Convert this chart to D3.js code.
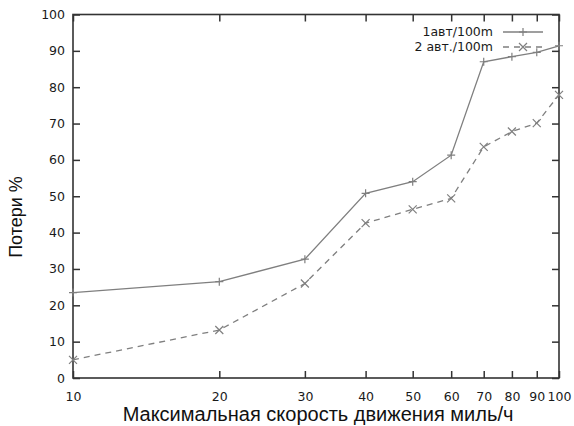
<html>
<head>
    <script src="https://d3js.org/d3.v7.min.js"></script>
</head>
<body style="margin:0;background:#fff">
    <svg id="chart" width="574" height="426"></svg>
</body>
<style>
    .tick text{font-family: "DejaVu Sans", Verdana, sans-serif; fill:#1a1a1a}
    .lbl{font-family: "Liberation Sans", Arial, sans-serif; fill:#111}
</style>
<script>
    // speed (miles/h) and losses in %
    const speeds = [10, 20, 30, 40, 50, 60, 70, 80, 90, 100]
    const loss1 = [23.5, 26.5, 32.7, 50.8, 54.0, 61.3, 87.0, 88.4, 89.6, 91.4]
    const loss2 = [5.0, 13.2, 26.0, 42.6, 46.4, 49.4, 63.6, 67.8, 70.1, 77.9]
    const yTicks = [0, 10, 20, 30, 40, 50, 60, 70, 80, 90, 100]
    const seriesNames = ['1авт/100m', '2 авт./100m']

    let svg = d3.select('svg#chart')
    const margin = {top: 14.5, right: 15, bottom: 48, left: 73}
    const width = +svg.attr('width'), height = +svg.attr('height')

    let x = d3.scaleLog().domain([10, 100]).range([margin.left, width - margin.right])
    let y = d3.scaleLinear().domain([0, 100]).range([height - margin.bottom, margin.top])

    const axisStroke = '#333'
    const lineColor = '#7f7f7f'

    let xb = svg.append('g').attr('transform', `translate(0,${y(0)})`)
        .call(d3.axisBottom(x).tickValues(speeds).tickFormat(d3.format('d')).tickSize(-7).tickPadding(14))
    let xt = svg.append('g').attr('transform', `translate(0,${y(100)})`)
        .call(d3.axisTop(x).tickValues(speeds).tickFormat('').tickSize(-7))
    let yl = svg.append('g').attr('transform', `translate(${x(10)},0)`)
        .call(d3.axisLeft(y).tickValues(yTicks).tickSize(-7).tickPadding(8))
    let yr = svg.append('g').attr('transform', `translate(${x(100)},0)`)
        .call(d3.axisRight(y).tickValues(yTicks).tickFormat('').tickSize(-7))

    ;[xb, xt, yl, yr].forEach(g => {
        g.select('path.domain').remove()
        g.selectAll('line').attr('stroke', axisStroke).attr('stroke-width', 1.5)
        g.selectAll('text').attr('font-size', '12.5px')
    })

    svg.append('rect')
       .attr('x', x(10)).attr('y', y(100))
       .attr('width', x(100) - x(10)).attr('height', y(0) - y(100))
       .attr('fill', 'none').attr('stroke', axisStroke).attr('stroke-width', 1.6)

    const line = d3.line().x(d => x(d[0])).y(d => y(d[1]))
    const s1 = speeds.map((s, i) => [s, loss1[i]])
    const s2 = speeds.map((s, i) => [s, loss2[i]])

    function plus(g, cx, cy) {
        g.append('path').attr('d', `M${cx-4},${cy}H${cx+4}M${cx},${cy-4}V${cy+4}`)
         .attr('stroke', lineColor).attr('stroke-width', 1.2)
    }
    function cross(g, cx, cy) {
        g.append('path').attr('d', `M${cx-4},${cy-4}L${cx+4},${cy+4}M${cx-4},${cy+4}L${cx+4},${cy-4}`)
         .attr('stroke', lineColor).attr('stroke-width', 1.2)
    }

    let plot = svg.append('g')
    plot.append('path').datum(s1).attr('d', line)
        .attr('fill', 'none').attr('stroke', lineColor).attr('stroke-width', 1.3)
    plot.append('path').datum(s2).attr('d', line)
        .attr('fill', 'none').attr('stroke', lineColor).attr('stroke-width', 1.3)
        .attr('stroke-dasharray', '6,5')
    s1.forEach(d => plus(plot, x(d[0]), y(d[1])))
    s2.forEach(d => cross(plot, x(d[0]), y(d[1])))

    // legend
    let leg = svg.append('g')
    seriesNames.forEach((name, i) => {
        let ly = 32 + i * 15
        leg.append('text').text(name)
           .attr('x', 493).attr('y', ly).attr('dy', '0.35em')
           .attr('text-anchor', 'end')
           .attr('font-family', '"DejaVu Sans", Verdana, sans-serif')
           .attr('font-size', '12.5px').attr('fill', '#1a1a1a')
        leg.append('line').attr('x1', 503).attr('x2', 543).attr('y1', ly).attr('y2', ly)
           .attr('stroke', lineColor).attr('stroke-width', 1.3)
           .attr('stroke-dasharray', i == 0 ? null : '6,5')
        if (i == 0) plus(leg, 523, ly); else cross(leg, 523, ly)
    })

    // axis titles
    svg.append('text').attr('class', 'lbl')
       .text('Максимальная скорость движения миль/ч')
       .attr('x', 318).attr('y', 421)
       .attr('text-anchor', 'middle').attr('font-size', '20px')
    svg.append('text').attr('class', 'lbl')
       .text('Потери %')
       .attr('transform', `translate(22,217) rotate(-90)`)
       .attr('text-anchor', 'middle').attr('font-size', '18px')
</script>
</html>
